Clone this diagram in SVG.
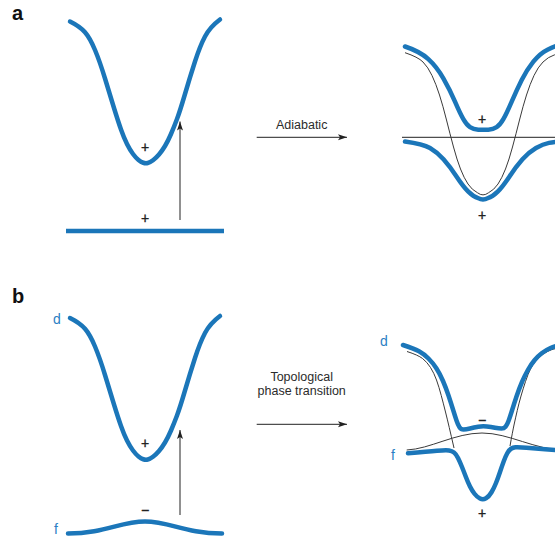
<svg xmlns="http://www.w3.org/2000/svg" xmlns:xlink="http://www.w3.org/1999/xlink" width="555" height="541" viewBox="0 0 555 541">
<defs>
<style>
.blue{fill:none;stroke:#1b76b9;stroke-width:4.5;stroke-linecap:round;stroke-linejoin:round}
.thin{fill:none;stroke:#3a3a3a;stroke-width:1}
.arr{fill:none;stroke:#222;stroke-width:1}
.sign{font-family:"Liberation Sans",Arial,sans-serif;font-size:14px;fill:#222;stroke:#222;stroke-width:0.35;text-anchor:middle}
.lbl{font-family:"Liberation Sans",Arial,sans-serif;font-size:12.5px;fill:#2b2b2b;text-anchor:middle}
.panel{font-family:"Liberation Sans",Arial,sans-serif;font-size:20px;font-weight:bold;fill:#111}
.orb{font-family:"Liberation Sans",Arial,sans-serif;font-size:14px;fill:#2a80c4}
</style>
<marker id="ah" markerUnits="userSpaceOnUse" markerWidth="10" markerHeight="7" refX="9" refY="3" orient="auto">
<path d="M0,0 L9,3 L0,6 L2,3 Z" fill="#222"/>
</marker>
<path id="well" d="M70,21.5 Q80,26.5 85,32.25 Q90,38 95,50 Q100,62 105,78.5 Q110,95 114,108 Q118,121 121,129.5 Q124,138 127,144 Q130,150 133,154 Q136,158 138.5,160 Q141,162 143.25,162.75 Q145.5,163.5 147.75,163 Q150,162.5 153,160.25 Q156,158 159,154.5 Q162,151 165,146 Q168,141 171,134 Q174,127 177,119 Q180,111 185,94 Q190,77 195,61.5 Q200,46 205,36.5 Q210,27 220,19.5"/>
</defs>

<g id="labels">
<text class="panel" x="12" y="20">a</text>
<text class="panel" x="12" y="303">b</text>
</g>

<g id="a-left">
<use xlink:href="#well" class="blue"/>
<line x1="66" y1="231" x2="224" y2="231" stroke="#1b76b9" stroke-width="4.5"/>
<text class="sign" x="145" y="151.5">+</text>
<text class="sign" x="145" y="222.5">+</text>
</g>

<g id="a-right">
<line x1="402" y1="137.3" x2="555" y2="137.3" stroke="#222" stroke-width="1"/>
<path class="thin" d="M405,52.7 Q418,57 423,62 Q428,67 432,75.5 Q436,84 439.5,95 Q443,106 446.5,120 Q450,134 453.5,147 Q457,160 460.5,169 Q464,178 468,184 Q472,190 477.5,192.75 Q483,197 488.5,192.75 Q494,190 498,184 Q502,178 505.5,169 Q509,160 512.5,147 Q516,134 519.5,120 Q523,106 526.5,95 Q530,84 534,75.5 Q538,67 543,62 Q548,57 554.5,54.85 Q561,52.7 566,51"/>
<path class="blue" d="M405,46.5 Q420,51.5 428.35,59.1 Q436.7,66.7 443.35,78.35 Q450,90 455,101.65 Q460,113.3 463.35,119.15 Q466.7,125 470,127.15 Q473.3,129.3 478.3,129.65 Q483.3,130 488.3,129.65 Q493.3,129.3 496.65,127.15 Q500,125 503.35,119.15 Q506.7,113.3 511.7,101.65 Q516.7,90 521.7,80 Q526.7,70 533.35,61.65 Q540,53.3 547.5,49.65 Q555,46 565,43"/>
<path class="blue" d="M405,141.5 Q423,144 430,148 Q437,152 443.5,159.35 Q450,166.7 456.65,176.7 Q463.3,186.7 468.3,191.7 Q473.3,196.7 478.15,198.1 Q483,201 487.85,198.1 Q492.7,196.7 497.7,191.7 Q502.7,186.7 509.35,176.7 Q516,166.7 522.5,159.35 Q529,152 536,148 Q543,144 549,142.9 Q555,141.8 566,141"/>
<text class="sign" x="482" y="123.5">+</text>
<text class="sign" x="482" y="219.5">+</text>
</g>

<g id="b-left">
<use xlink:href="#well" class="blue" transform="translate(0,296.5)"/>
<path class="blue" d="M68,533.5 C105,533.5 120,521.5 145,521.5 C170,521.5 185,533.5 222,533.5"/>
<text class="orb" x="53" y="324">d</text>
<text class="orb" x="54" y="534">f</text>
<text class="sign" x="145" y="448">+</text>
<text class="sign" x="145" y="514.5">−</text>
</g>

<g id="b-right">
<path class="thin" d="M407,351.5 Q418,355 422.5,358.5 Q427,362 430.5,367.5 Q434,373 436.5,380 Q439,387 441.25,395.5 Q443.5,404 445.5,412 Q447.5,420 449.25,427.5 Q451,435 454,448"/>
<path class="thin" d="M510,446 Q512.5,432 514,425 Q515.5,418 517.25,410.5 Q519,403 521,396 Q523,389 525.5,381.5 Q528,374 530.5,369 Q533,364 536.5,360 Q540,356 544,353.5 Q548,351 551.5,349.75 Q555,348.5 566,346.5"/>
<path class="thin" d="M406.7,450 C430,449 455,433 482,433 C509,433 535,450 566,450.5"/>
<path class="blue" d="M403,345 Q414,348.5 419,351.25 Q424,354 428.5,358.5 Q433,363 436.5,368.5 Q440,374 443,381 Q446,388 448.5,395.5 Q451,403 453,409.5 Q455,416 456.5,420.5 Q458,425 459.5,427.25 Q461,429.5 463.5,429.5 Q466,429.5 470,428.5 Q474,427.5 478.25,426.75 Q482.5,426 486.75,426.5 Q491,427 495,427.75 Q499,428.5 501.5,428.5 Q504,428.5 505.5,426.75 Q507,425 508.5,421 Q510,417 512,410.5 Q514,404 516.5,396.5 Q519,389 522,382 Q525,375 528,369.75 Q531,364.5 534.5,360.25 Q538,356 542,353 Q546,350 550.5,348 Q555,346 566,343.5"/>
<path class="blue" d="M408,453.3 Q428,451.7 437,450.85 Q446,450 449,450.5 Q452,451 454,452.5 Q456,454 458,458 Q460,462 462,467 Q464,472 466,477.25 Q468,482.5 470,486.5 Q472,490.5 474.5,493.75 Q477,497 480,498.5 Q483,500 486,498.25 Q489,496.5 491.5,492.25 Q494,488 496,483 Q498,478 500,472 Q502,466 503.75,461.25 Q505.5,456.5 507.25,453.25 Q509,450 511,448.75 Q513,447.5 515.5,447.25 Q518,447 526.5,447.65 Q535,448.3 545,449.15 Q555,450 566,451"/>
<text class="orb" x="380" y="346">d</text>
<text class="orb" x="391" y="460">f</text>
<text class="sign" x="482" y="424.5">−</text>
<text class="sign" x="482" y="518">+</text>
</g>

<g id="connectors">
<line class="arr" x1="180" y1="220" x2="180" y2="121.5" marker-end="url(#ah)"/>
<line class="arr" x1="180" y1="515" x2="180" y2="430" marker-end="url(#ah)"/>
<line class="arr" x1="256.7" y1="137.3" x2="347" y2="137.3" marker-end="url(#ah)"/>
<line class="arr" x1="256.7" y1="424.3" x2="347" y2="424.3" marker-end="url(#ah)"/>
<text class="lbl" x="301.7" y="129">Adiabatic</text>
<text class="lbl" x="301.7" y="380.5">Topological</text>
<text class="lbl" x="301.7" y="395">phase transition</text>
</g>
</svg>
